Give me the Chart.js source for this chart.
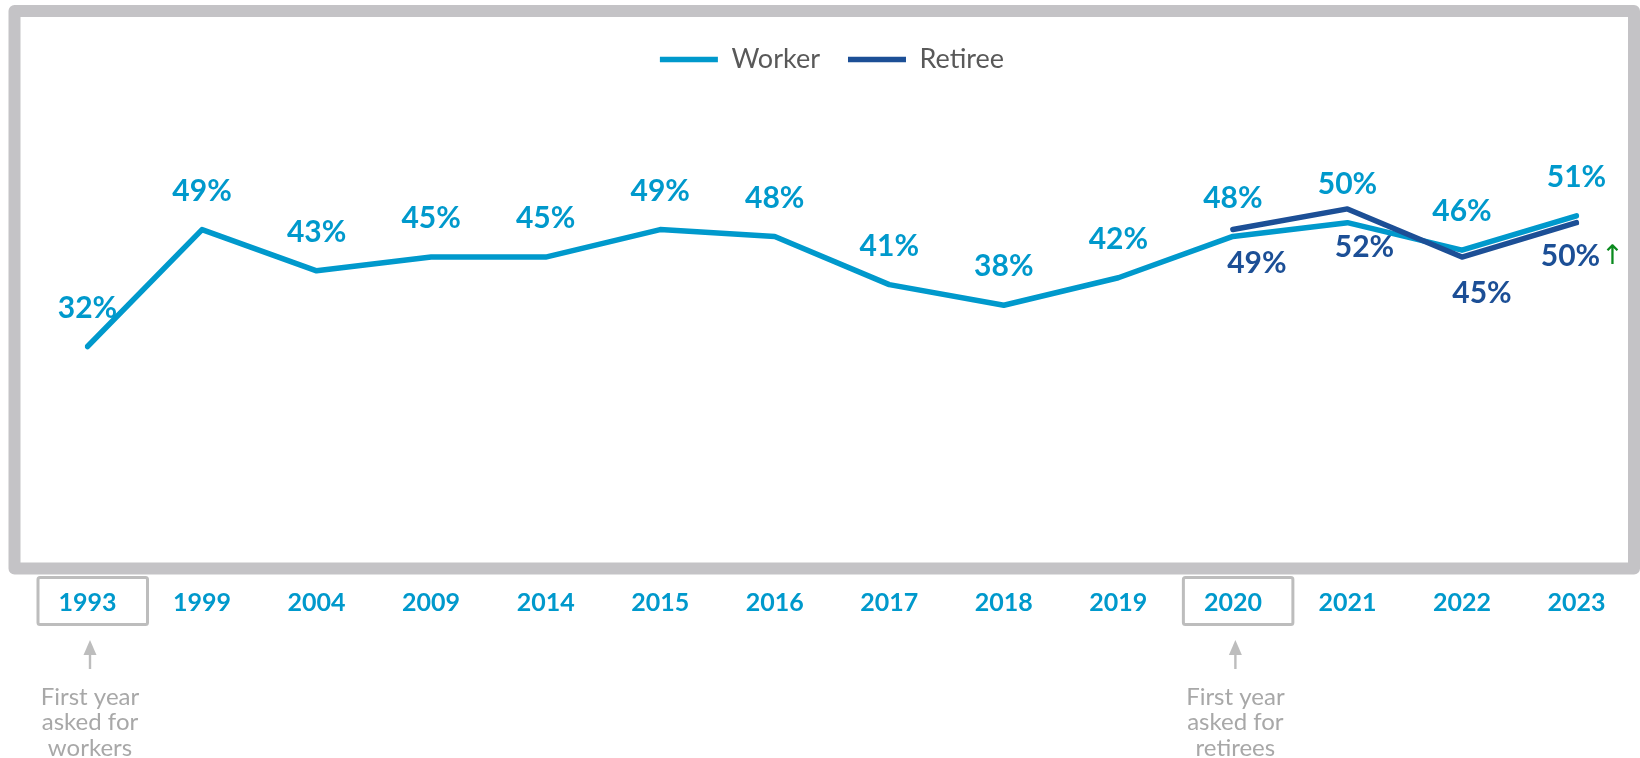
<!DOCTYPE html>
<html>
<head>
<meta charset="utf-8">
<script src="https://cdn.jsdelivr.net/npm/chart.js@4.4.1/dist/chart.umd.min.js"></script>
<style>
html,body{margin:0;padding:0;background:#ffffff;}
#wrap{width:1640px;height:758px;position:relative;}
</style>
</head>
<body>
<div id="wrap"><canvas id="c" width="1640" height="758"></canvas></div>
<script>
// ---- data ----
const years = ['1993','1999','2004','2009','2014','2015','2016','2017','2018','2019','2020','2021','2022','2023'];
const workerValues = [32,49,43,45,45,49,48,41,38,42,48,50,46,51];
const retireeValues = [null,null,null,null,null,null,null,null,null,null,49,52,45,50];
const seriesNames = ['Worker','Retiree'];
const noteYears = ['1993','2020'];
const noteLines = [['First year','asked for','workers'],['First year','asked for','retirees']];
const retireeTrendYear = '2023';
const retireeTrendMark = '\u2191';

// ---- styles ----
const WORKER_COLOR = '#0099CC';
const RETIREE_COLOR = '#1C4F96';
const FRAME_COLOR = '#C4C3C6';
const NOTE_COLOR = '#A8A8A8';
const NOTE_BOX_COLOR = '#BDBDBD';
// label placement (pixels relative to each point)
const workerLabelShift = {dx: 0, dy: -38.5};
const retireeLabelShift = {'2020': [24, 34], '2021': [17, 38.5], '2022': [20, 36], '2023': [-6, 34]};

const framePlugin = {
  id: 'frame',
  beforeDraw(chart) {
    const ctx = chart.ctx;
    ctx.save();
    ctx.fillStyle = '#ffffff';
    ctx.fillRect(0, 0, chart.width, chart.height);
    ctx.strokeStyle = FRAME_COLOR;
    ctx.lineWidth = 12;
    ctx.lineJoin = 'round';
    ctx.strokeRect(14.5, 11, 1619.5, 557.5);
    ctx.restore();
  }
};

const valueLabelPlugin = {
  id: 'valueLabels',
  beforeDatasetsDraw(chart) {
    const ctx = chart.ctx;
    ctx.save();
    ctx.font = 'bold 30px Lato, "Open Sans", sans-serif';
    ctx.textAlign = 'center';
    ctx.textBaseline = 'middle';
    const wm = chart.getDatasetMeta(0);
    ctx.fillStyle = WORKER_COLOR;
    wm.data.forEach((pt, i) => {
      const v = workerValues[i];
      if (v === null) return;
      ctx.fillText(v + '%', pt.x + workerLabelShift.dx, pt.y + workerLabelShift.dy);
    });
    const rm = chart.getDatasetMeta(1);
    rm.data.forEach((pt, i) => {
      const v = retireeValues[i];
      if (v === null) return;
      const s = retireeLabelShift[years[i]] || [0, 36];
      const tx = pt.x + s[0], ty = pt.y + s[1];
      ctx.fillStyle = RETIREE_COLOR;
      ctx.textAlign = 'center';
      ctx.font = 'bold 30px Lato, "Open Sans", sans-serif';
      ctx.fillText(v + '%', tx, ty);
      if (years[i] === retireeTrendYear) {
        const w = ctx.measureText(v + '%').width;
        ctx.fillStyle = '#0A8A1E';
        ctx.textAlign = 'left';
        ctx.font = '27px "DejaVu Sans", sans-serif';
        ctx.fillText(retireeTrendMark, tx + w / 2 + 1, ty);
      }
    });
    ctx.restore();
  }
};

const notePlugin = {
  id: 'notes',
  afterDraw(chart) {
    const ctx = chart.ctx;
    const xs = chart.scales.x;
    ctx.save();
    noteYears.forEach((yr, k) => {
      const x = xs.getPixelForValue(years.indexOf(yr));
      ctx.strokeStyle = NOTE_BOX_COLOR;
      ctx.lineWidth = 3;
      ctx.beginPath();
      ctx.roundRect(x - 49.5, 577.5, 109.5, 47, 2);
      ctx.stroke();
      const ax = x + 2.5;
      ctx.fillStyle = NOTE_BOX_COLOR;
      ctx.fillRect(ax - 1.2, 652, 2.4, 17);
      ctx.beginPath();
      ctx.moveTo(ax, 640);
      ctx.lineTo(ax - 6.5, 655);
      ctx.lineTo(ax + 6.5, 655);
      ctx.closePath();
      ctx.fill();
      ctx.fillStyle = NOTE_COLOR;
      ctx.font = '24px Lato, "Open Sans", sans-serif';
      ctx.textAlign = 'center';
      ctx.textBaseline = 'middle';
      noteLines[k].forEach((t, j) => ctx.fillText(t, ax, 697 + j * 25.5));
    });
    ctx.restore();
  }
};

new Chart(document.getElementById('c'), {
  type: 'line',
  data: {
    labels: years,
    datasets: [
      {
        label: seriesNames[0],
        data: workerValues,
        borderColor: WORKER_COLOR,
        backgroundColor: WORKER_COLOR,
        borderWidth: 5.5,
        borderCapStyle: 'round',
        borderJoinStyle: 'round',
        pointRadius: 0,
        tension: 0,
        order: 1
      },
      {
        label: seriesNames[1],
        data: retireeValues,
        borderColor: RETIREE_COLOR,
        backgroundColor: RETIREE_COLOR,
        borderWidth: 5.5,
        borderCapStyle: 'round',
        borderJoinStyle: 'round',
        pointRadius: 0,
        tension: 0,
        order: 0
      }
    ]
  },
  options: {
    responsive: false,
    animation: false,
    devicePixelRatio: 1,
    layout: { padding: { left: 87.5, right: 63.5, top: 18, bottom: 0 } },
    scales: {
      x: {
        offset: false,
        grid: { display: false, drawTicks: false },
        border: { display: false },
        ticks: {
          color: WORKER_COLOR,
          font: { family: 'Lato, "Open Sans", sans-serif', size: 25, weight: 'bold' },
          padding: 21.5,
          maxRotation: 0,
          autoSkip: false
        },
        afterFit(scale) { scale.height = 191.3; }
      },
      y: {
        display: false,
        min: 0,
        max: 70.3
      }
    },
    plugins: {
      legend: {
        position: 'top',
        align: 'center',
        labels: {
          usePointStyle: true,
          pointStyle: 'line',
          pointStyleWidth: 58,
          padding: 28,
          color: '#595959',
          font: { family: 'Lato, "Open Sans", sans-serif', size: 27 },
          sort: (a, b) => a.datasetIndex - b.datasetIndex
        }
      },
      tooltip: { enabled: false }
    }
  },
  plugins: [framePlugin, valueLabelPlugin, notePlugin]
});
</script>
</body>
</html>
